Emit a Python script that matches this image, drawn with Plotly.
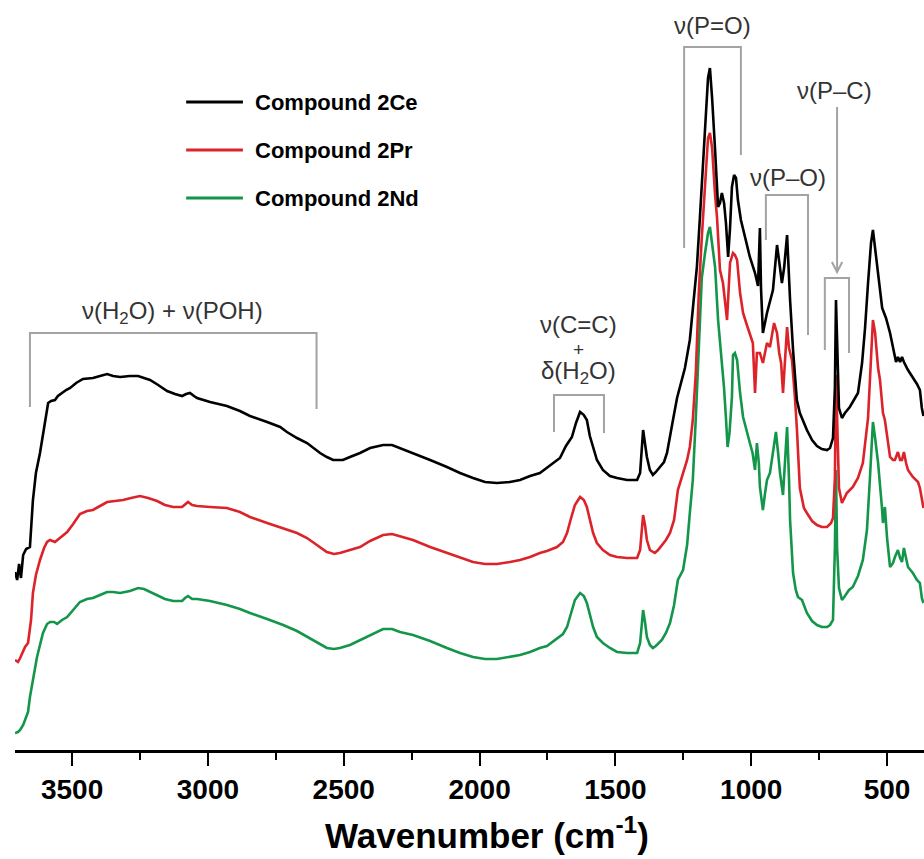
import plotly.graph_objects as go

# ---------------- data ----------------
ce_wn = [3710, 3702, 3695, 3688, 3680, 3669, 3655, 3644, 3633, 3618, 3603, 3588, 3577, 3563, 3552, 3537,
         3522, 3507, 3485, 3460, 3423, 3397, 3371, 3349, 3323, 3287, 3257, 3235, 3213, 3183, 3150, 3121,
         3095, 3080, 3066, 3051, 3040, 2992, 2930, 2882, 2845, 2782, 2734, 2709, 2672, 2635, 2606, 2587,
         2562, 2539, 2521, 2503, 2477, 2440, 2403, 2355, 2322, 2293, 2245, 2182, 2120, 2072, 2024, 1980,
         1936, 1888, 1851, 1814, 1778, 1752, 1730, 1704, 1682, 1660, 1645, 1630, 1616, 1605, 1594, 1582,
         1568, 1546, 1520, 1494, 1457, 1420, 1409, 1398, 1391, 1384, 1373, 1362, 1351, 1336, 1321, 1310,
         1299, 1288, 1273, 1262, 1244, 1226, 1211, 1200, 1189, 1178, 1167, 1159, 1152, 1144, 1133, 1122,
         1115, 1108, 1100, 1093, 1085, 1078, 1071, 1063, 1056, 1049, 1038, 1023, 1005, 986, 975, 968,
         964, 957, 942, 920, 905, 894, 887, 879, 868, 857, 846, 832, 821, 795, 776, 758,
         740, 721, 710, 699, 692, 688, 684, 677, 666, 655, 637, 618, 607, 592, 581, 570,
         559, 552, 544, 533, 526, 518, 511, 504, 489, 475, 467, 460, 452, 445, 438, 423,
         408, 390, 379, 372, 366]
ce_y = [1.76, 1.68, 1.84, 1.70, 1.93, 1.99, 2.01, 2.48, 2.75, 2.95, 3.20, 3.45, 3.47, 3.48, 3.52, 3.55,
        3.58, 3.60, 3.65, 3.69, 3.70, 3.72, 3.74, 3.72, 3.71, 3.72, 3.72, 3.70, 3.68, 3.63, 3.57, 3.54,
        3.52, 3.54, 3.55, 3.52, 3.50, 3.46, 3.42, 3.37, 3.32, 3.26, 3.21, 3.16, 3.10, 3.05, 2.99, 2.95,
        2.91, 2.88, 2.88, 2.88, 2.91, 2.95, 3.00, 3.03, 3.03, 3.00, 2.95, 2.88, 2.81, 2.75, 2.70, 2.66,
        2.65, 2.66, 2.68, 2.72, 2.75, 2.80, 2.85, 2.90, 3.02, 3.11, 3.25, 3.36, 3.33, 3.28, 3.12, 3.01,
        2.88, 2.78, 2.72, 2.70, 2.68, 2.68, 2.75, 3.18, 3.05, 2.91, 2.78, 2.73, 2.76, 2.81, 2.86, 2.95,
        3.10, 3.28, 3.50, 3.61, 3.80, 4.08, 4.55, 4.81, 5.30, 5.81, 6.40, 6.70, 6.80, 6.50, 5.98, 5.41,
        5.45, 5.55, 5.45, 5.25, 4.91, 5.20, 5.61, 5.73, 5.70, 5.48, 5.28, 5.10, 4.91, 4.75, 4.62, 5.20,
        4.60, 4.15, 4.35, 4.58, 5.03, 4.80, 4.65, 4.80, 5.13, 4.48, 3.98, 3.48, 3.35, 3.18, 3.08, 3.02,
        2.99, 2.98, 3.00, 3.10, 3.60, 4.48, 4.05, 3.40, 3.30, 3.35, 3.41, 3.50, 3.55, 3.85, 4.20, 4.65,
        5.05, 5.18, 5.00, 4.71, 4.55, 4.40, 4.35, 4.30, 4.15, 3.95, 3.86, 3.91, 3.86, 3.91, 3.86, 3.78,
        3.72, 3.64, 3.58, 3.40, 3.32]

pr_wn = [3710, 3699, 3691, 3673, 3662, 3651, 3644, 3633, 3618, 3603, 3592, 3581, 3563, 3544, 3518, 3496,
         3471, 3445, 3423, 3397, 3371, 3342, 3312, 3283, 3250, 3220, 3187, 3158, 3128, 3095, 3084, 3073,
         3058, 3040, 2992, 2930, 2882, 2845, 2782, 2723, 2672, 2635, 2598, 2562, 2536, 2514, 2477, 2440,
         2403, 2355, 2322, 2293, 2245, 2182, 2120, 2072, 2024, 1980, 1936, 1888, 1851, 1814, 1778, 1752,
         1715, 1693, 1678, 1663, 1649, 1630, 1616, 1605, 1594, 1582, 1568, 1546, 1520, 1494, 1457, 1420,
         1409, 1398, 1391, 1384, 1373, 1355, 1343, 1329, 1314, 1299, 1284, 1270, 1251, 1236, 1226, 1215,
         1204, 1193, 1182, 1170, 1159, 1152, 1144, 1133, 1126, 1115, 1104, 1097, 1089, 1078, 1067, 1060,
         1052, 1041, 1030, 1016, 1005, 994, 986, 979, 968, 957, 942, 931, 916, 905, 897, 890,
         883, 876, 868, 861, 850, 839, 832, 821, 806, 795, 776, 758, 740, 721, 706, 699,
         692, 688, 684, 677, 666, 648, 626, 607, 589, 578, 570, 559, 552, 544, 533, 526,
         519, 515, 508, 500, 489, 478, 471, 460, 452, 445, 438, 430, 423, 405, 386, 379,
         372, 366]
pr_y = [0.88, 0.86, 0.90, 1.01, 1.05, 1.28, 1.55, 1.73, 1.88, 2.00, 2.06, 2.08, 2.06, 2.10, 2.16, 2.24,
        2.34, 2.37, 2.38, 2.42, 2.46, 2.47, 2.48, 2.50, 2.52, 2.50, 2.47, 2.43, 2.41, 2.41, 2.44, 2.46,
        2.43, 2.42, 2.41, 2.40, 2.36, 2.31, 2.25, 2.20, 2.15, 2.10, 2.03, 1.96, 1.94, 1.95, 1.98, 2.01,
        2.07, 2.13, 2.14, 2.12, 2.08, 2.01, 1.95, 1.90, 1.86, 1.84, 1.84, 1.86, 1.88, 1.91, 1.95, 1.97,
        2.01, 2.06, 2.15, 2.30, 2.43, 2.51, 2.48, 2.41, 2.28, 2.15, 2.05, 1.98, 1.93, 1.91, 1.90, 1.90,
        1.98, 2.33, 2.23, 2.08, 1.98, 1.95, 1.98, 2.03, 2.08, 2.15, 2.28, 2.58, 2.75, 2.88, 3.01, 3.28,
        3.75, 4.55, 5.10, 5.65, 6.10, 6.15, 6.00, 5.53, 5.31, 4.78, 4.65, 4.48, 4.28, 4.85, 4.95, 4.93,
        4.88, 4.55, 4.35, 4.23, 4.15, 4.05, 3.55, 3.95, 3.95, 3.85, 4.05, 4.01, 4.25, 4.15, 3.95, 3.85,
        3.55, 3.90, 4.21, 4.00, 3.88, 3.50, 3.20, 2.60, 2.40, 2.35, 2.27, 2.23, 2.21, 2.21, 2.25, 2.30,
        2.70, 3.73, 3.40, 2.60, 2.45, 2.55, 2.61, 2.70, 2.85, 3.10, 3.30, 3.90, 4.28, 4.15, 3.80, 3.68,
        3.45, 3.35, 3.28, 3.10, 2.91, 2.88, 2.88, 2.96, 2.88, 2.88, 2.96, 2.85, 2.78, 2.71, 2.66, 2.60,
        2.48, 2.40]

nd_wn = [3710, 3699, 3691, 3680, 3673, 3662, 3655, 3644, 3629, 3618, 3607, 3592, 3581, 3566, 3555, 3537,
         3518, 3496, 3471, 3445, 3423, 3397, 3371, 3349, 3323, 3287, 3257, 3235, 3213, 3187, 3158, 3128,
         3095, 3084, 3073, 3058, 3040, 2992, 2930, 2882, 2845, 2782, 2723, 2672, 2635, 2598, 2562, 2536,
         2514, 2477, 2440, 2403, 2355, 2322, 2293, 2245, 2182, 2120, 2072, 2024, 1980, 1936, 1888, 1851,
         1814, 1778, 1752, 1715, 1693, 1678, 1663, 1649, 1630, 1616, 1605, 1594, 1582, 1568, 1546, 1520,
         1494, 1457, 1420, 1409, 1398, 1391, 1384, 1373, 1362, 1351, 1329, 1314, 1299, 1284, 1270, 1251,
         1236, 1226, 1215, 1204, 1193, 1182, 1170, 1159, 1152, 1141, 1133, 1122, 1108, 1100, 1093, 1087,
         1080, 1071, 1067, 1060, 1052, 1041, 1030, 1016, 1005, 995, 986, 979, 972, 968, 957, 949,
         942, 931, 924, 909, 901, 894, 883, 876, 868, 861, 857, 846, 836, 828, 813, 795,
         776, 758, 740, 721, 710, 699, 692, 688, 684, 677, 666, 655, 640, 626, 607, 589,
         574, 563, 556, 552, 544, 533, 519, 515, 508, 500, 489, 478, 471, 460, 452, 445,
         438, 430, 423, 405, 390, 379, 372, 366]
nd_y = [0.15, 0.16, 0.18, 0.23, 0.28, 0.36, 0.51, 0.68, 0.91, 1.03, 1.15, 1.24, 1.26, 1.26, 1.24, 1.28,
        1.31, 1.38, 1.46, 1.49, 1.50, 1.53, 1.56, 1.56, 1.55, 1.57, 1.60, 1.59, 1.56, 1.53, 1.49, 1.47,
        1.47, 1.50, 1.52, 1.49, 1.49, 1.47, 1.43, 1.39, 1.35, 1.29, 1.23, 1.17, 1.11, 1.05, 1.00, 0.99,
        1.00, 1.03, 1.08, 1.13, 1.19, 1.19, 1.16, 1.13, 1.07, 1.00, 0.95, 0.91, 0.89, 0.89, 0.91, 0.93,
        0.96, 1.00, 1.02, 1.10, 1.14, 1.21, 1.35, 1.48, 1.55, 1.52, 1.45, 1.33, 1.21, 1.11, 1.05, 1.00,
        0.96, 0.95, 0.95, 1.05, 1.38, 1.26, 1.11, 1.03, 1.00, 1.02, 1.08, 1.15, 1.25, 1.43, 1.68, 1.78,
        2.03, 2.35, 2.68, 3.30, 4.10, 4.70, 4.95, 5.15, 5.21, 5.00, 4.81, 4.28, 3.88, 3.60, 3.30, 3.01,
        3.15, 3.51, 3.93, 3.95, 3.88, 3.55, 3.31, 3.15, 3.05, 2.95, 2.78, 3.05, 2.85, 2.61, 2.38, 2.55,
        2.68, 2.75, 2.88, 3.16, 2.95, 2.75, 2.53, 2.85, 3.21, 2.70, 2.28, 1.75, 1.58, 1.51, 1.48, 1.35,
        1.27, 1.23, 1.21, 1.21, 1.23, 1.28, 2.00, 2.78, 2.00, 1.60, 1.48, 1.52, 1.58, 1.61, 1.72, 1.88,
        2.18, 2.70, 3.01, 3.26, 3.10, 2.85, 2.41, 2.25, 2.41, 2.10, 1.81, 1.85, 1.91, 1.98, 1.90, 1.86,
        2.00, 1.88, 1.81, 1.75, 1.68, 1.65, 1.50, 1.45]

series_names = ["Compound 2Ce", "Compound 2Pr", "Compound 2Nd"]
series_colors = ["#000000", "#dc2329", "#13964a"]
tick_vals = [3500, 3000, 2500, 2000, 1500, 1000, 500]
minor_vals = [3250, 2750, 2250, 1750, 1250, 750]

# ---------------- figure ----------------
fig = go.Figure()
for wn, y, name, col in [(nd_wn, nd_y, series_names[2], series_colors[2]),
                         (pr_wn, pr_y, series_names[1], series_colors[1]),
                         (ce_wn, ce_y, series_names[0], series_colors[0])]:
    fig.add_trace(go.Scatter(x=wn, y=y, mode="lines", name=name,
                             line=dict(color=col, width=2.6), showlegend=False))

GREY = "#a3a3a3"
TXT = "#333333"
BOLD = "Liberation Sans, Arial"
shapes = []
def path(d):
    shapes.append(dict(type="path", path=d, xref="x", yref="y",
                       line=dict(color=GREY, width=2), fillcolor="rgba(0,0,0,0)"))

path("M 3655,3.41 L 3655,4.15 L 2600,4.15 L 2600,3.39")
path("M 1726,3.16 L 1726,3.53 L 1542,3.53 L 1542,3.15")
path("M 1247,5.00 L 1247,7.01 L 1038,7.01 L 1038,5.93")
path("M 946,5.08 L 946,5.53 L 791,5.53 L 791,4.13")
path("M 729,3.98 L 729,4.70 L 640,4.70 L 640,3.95")
path("M 684,6.41 L 684,4.77")
path("M 703,4.86 L 684,4.76 L 665,4.86")

# custom legend
leg_y = [6.46, 5.98, 5.50]
for name, col, yy in zip(series_names, series_colors, leg_y):
    shapes.append(dict(type="line", xref="x", yref="y", x0=3080, x1=2871, y0=yy, y1=yy,
                       line=dict(color=col, width=3)))

annotations = []
def txt(x, y, s, size=24):
    annotations.append(dict(x=x, y=y, xref="x", yref="y", text=s, showarrow=False,
                            xanchor="center", yanchor="middle",
                            font=dict(family="Liberation Sans, Arial", size=size, color=TXT)))

txt(3132, 4.36, "ν(H<sub>2</sub>O) + ν(POH)")
txt(1634, 4.24, "ν(C=C)")
txt(1634, 3.99, "+", size=19)
txt(1634, 3.76, "δ(H<sub>2</sub>O)")
txt(1141, 7.23, "ν(P=O)")
txt(865, 5.71, "ν(P–O)")
txt(692, 6.58, "ν(P–C)")

for name, yy in zip(series_names, leg_y):
    annotations.append(dict(x=2834, y=yy, xref="x", yref="y", text=name, showarrow=False,
                            xanchor="left", yanchor="middle",
                            font=dict(family=BOLD, size=22, color="#000000", weight="bold")))

# axis title (placed like the reference, slightly right of the axis centre)
annotations.append(dict(x=0.519, y=-0.111, xref="paper", yref="paper",
                        text="Wavenumber (cm<sup>-1</sup>)", showarrow=False,
                        xanchor="center", yanchor="middle",
                        font=dict(family=BOLD, size=35, color="black", weight="bold")))

fig.update_layout(
    width=924, height=859,
    margin=dict(l=15, r=0, t=0, b=109),
    paper_bgcolor="white", plot_bgcolor="white",
    shapes=shapes, annotations=annotations,
    xaxis=dict(range=[3710, 364], tickmode="array", tickvals=tick_vals,
               ticks="outside", ticklen=13, tickwidth=2, tickcolor="black",
               showline=True, linewidth=2.5, linecolor="black", showgrid=False, zeroline=False,
               tickfont=dict(family=BOLD, size=28, color="black", weight="bold"),
               minor=dict(tickmode="array", tickvals=minor_vals, ticks="outside", ticklen=7,
                          tickwidth=2, tickcolor="black", showgrid=False)),
    yaxis=dict(range=[-0.02, 7.48], visible=False, showgrid=False, zeroline=False),
)

fig.write_html("out.html")
